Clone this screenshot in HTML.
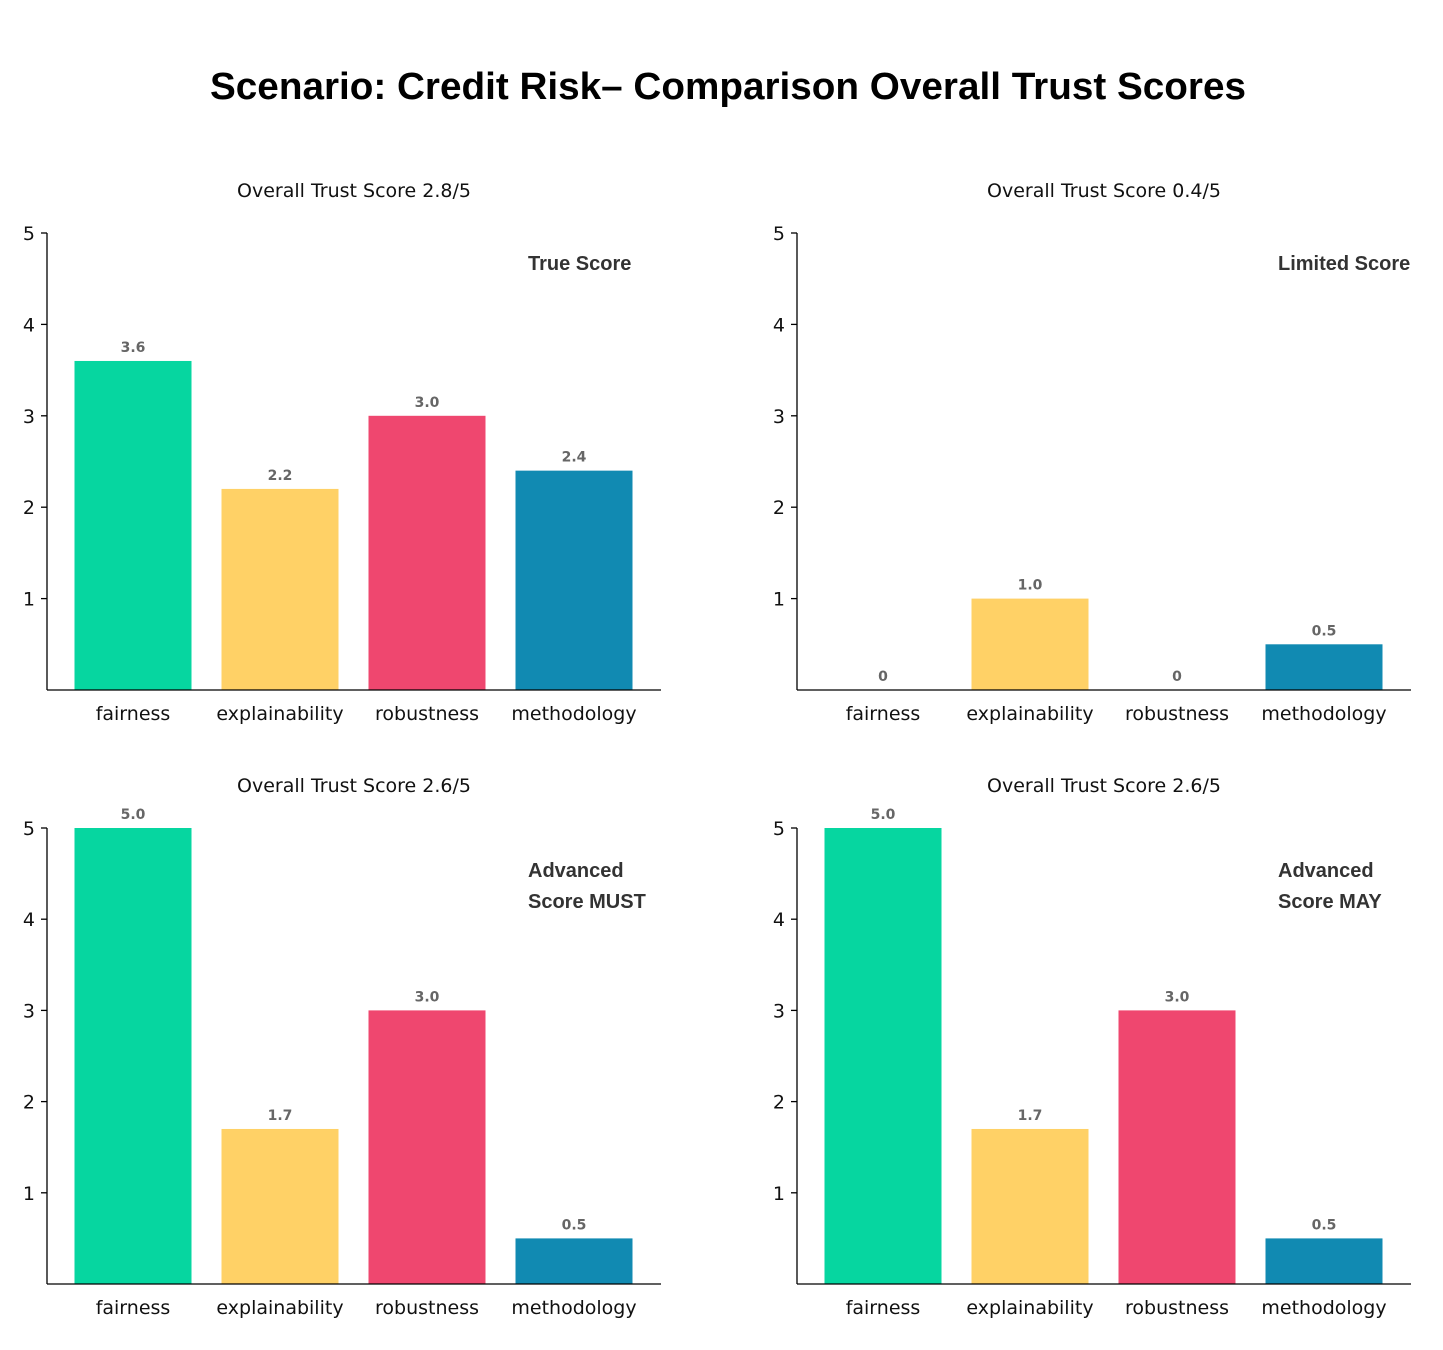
<!DOCTYPE html>
<html><head><meta charset="utf-8"><style>
body{margin:0;background:#fff;}
svg{display:block;font-family:"DejaVu Sans","Liberation Sans",sans-serif;}
</style></head><body>
<svg id="chart" width="1443" height="1350" viewBox="0 0 1443 1350" xmlns="http://www.w3.org/2000/svg">
<rect width="1443" height="1350" fill="#fff"/>
<text x="728" y="99" text-anchor="middle" font-size="38" font-weight="bold" fill="#000" font-family="Liberation Sans, sans-serif" textLength="1036" lengthAdjust="spacingAndGlyphs">Scenario: Credit Risk– Comparison Overall Trust Scores</text>
</svg>
<script>
const categories = ["fairness","explainability","robustness","methodology"];
const colors = ["#06D6A0","#FFD166","#EF476F","#118AB2"];
const valuesTrue = [3.6,2.2,3.0,2.4];
const valuesLimited = [0,1.0,0,0.5];
const valuesMust = [5.0,1.7,3.0,0.5];
const valuesMay = [5.0,1.7,3.0,0.5];
const labelsTrue = ["3.6","2.2","3.0","2.4"];
const labelsLimited = ["0","1.0","0","0.5"];
const labelsMust = ["5.0","1.7","3.0","0.5"];
const labelsMay = ["5.0","1.7","3.0","0.5"];
const yTicks = [1,2,3,4,5];
const titles = ["Overall Trust Score 2.8/5","Overall Trust Score 0.4/5","Overall Trust Score 2.6/5","Overall Trust Score 2.6/5"];
const notes = [["True Score"],["Limited Score"],["Advanced","Score MUST"],["Advanced","Score MAY"]];

const svg = document.getElementById('chart');
const NS = "http://www.w3.org/2000/svg";
function mk(tag, attrs, parent){
  const e = document.createElementNS(NS, tag);
  for (const k in attrs) e.setAttribute(k, attrs[k]);
  (parent||svg).appendChild(e);
  return e;
}
const panels = [
  {x0:47, base:690, top:233, vals:valuesTrue, labs:labelsTrue, name:"true-score"},
  {x0:797, base:690, top:233, vals:valuesLimited, labs:labelsLimited, name:"limited-score"},
  {x0:47, base:1284, top:828, vals:valuesMust, labs:labelsMust, name:"advanced-must"},
  {x0:797, base:1284, top:828, vals:valuesMay, labs:labelsMay, name:"advanced-may"}
];
panels.forEach((p, pi) => {
  const g = mk('g', {});
  
  
  const yScale = v => p.base - (p.base - p.top) * v / 5;
  const xCenter = i => p.x0 + 86 + i * 147;
  const t = mk('text', {x: p.x0 + 307, y: p.top - 36, 'text-anchor':'middle', 'font-size':19, fill:'#111'}, g);
  t.textContent = titles[pi];
  
  
  categories.forEach((c, i) => {
    const v = p.vals[i];
    const r = mk('rect', {x: xCenter(i) - 58.5, y: yScale(v), width: 117, height: p.base - yScale(v), fill: colors[i]}, g);
    
    
    const vl = mk('text', {x: xCenter(i), y: yScale(v) - 9, 'text-anchor':'middle', 'font-size':14, 'font-weight':'bold', fill:'#666'}, g);
    vl.textContent = p.labs[i];
    
    
    const xl = mk('text', {x: xCenter(i), y: p.base + 30, 'text-anchor':'middle', 'font-size':19, fill:'#111'}, g);
    xl.textContent = c;
    
    
  });
  yTicks.forEach(tv => {
    const y = yScale(tv);
    mk('line', {x1: p.x0 - 6, x2: p.x0, y1: y, y2: y, stroke:'#000', 'stroke-width':1.3}, g);
    const yl = mk('text', {x: p.x0 - 12, y: y + 7, 'text-anchor':'end', 'font-size':19, fill:'#111'}, g);
    yl.textContent = tv;
    
    
  });
  mk('line', {x1: p.x0, x2: p.x0, y1: p.top, y2: p.base, stroke:'#000', 'stroke-width':1.3}, g);
  mk('line', {x1: p.x0, x2: p.x0 + 614, y1: p.base, y2: p.base, stroke:'#000', 'stroke-width':1.3}, g);
  notes[pi].forEach((line, li) => {
    const n = mk('text', {x: p.x0 + 481, y: p.top + (pi < 2 ? 37 : 49) + li * 31, 'font-size':20, 'font-weight':'bold', fill:'#333', 'font-family':'Liberation Sans, sans-serif'}, g);
    n.textContent = line;
    
    
  });
});
</script>
</body></html>
